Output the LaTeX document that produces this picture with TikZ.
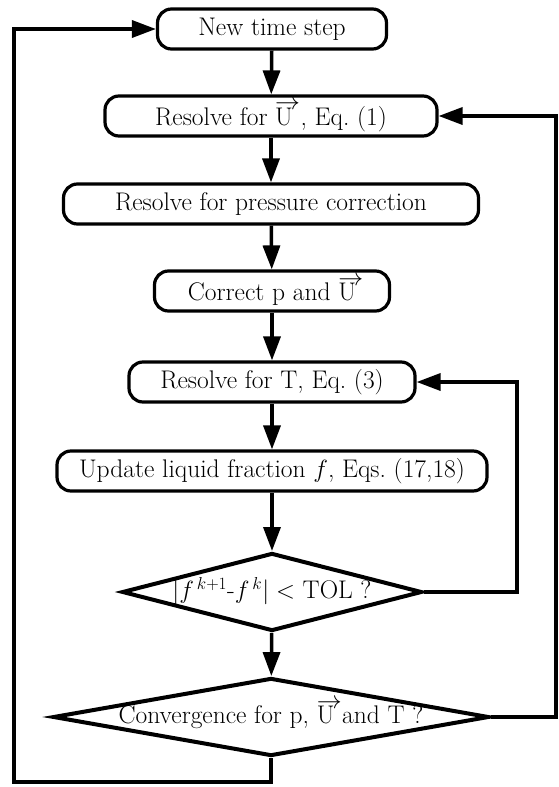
\documentclass[tikz,border=0pt]{standalone}
\usetikzlibrary{shapes.geometric,arrows.meta}

\newcommand{\vU}{\rlap{\raisebox{0.6em}{$\rightarrow$}}U}

\begin{document}
\begin{tikzpicture}[x=1pt,y=-1pt,
  >={Triangle[length=24pt,width=17pt]},
  box/.style={draw,line width=3.2pt,rounded corners=14pt,minimum height=40pt,inner sep=0pt,font=\fontsize{25.5}{30}\selectfont},
  test/.style={draw,shape=diamond,line width=4pt,inner sep=0pt,text height=13pt,text depth=0pt,font=\fontsize{25.5}{30}\selectfont},
  flow/.style={line width=3.5pt,->}]

\useasboundingbox (0,0) rectangle (558,787);

\node[box,minimum width=229pt] (newstep) at (272,29) {New time step};
\node[box,minimum width=332pt] (velo) at (271,116) {Resolve for \vU\ , Eq.~(1)};
\node[box,minimum width=415pt] (press) at (271,204) {Resolve for pressure correction};
\node[box,minimum width=235pt] (corr) at (272,291) {Correct p and \vU};
\node[box,minimum width=286pt] (temp) at (272,382) {Resolve for T, Eq.~(3)};
\node[box,minimum width=430pt] (frac) at (272,471) {Update liquid fraction $f$, Eqs.~(17,18)};

\node[test,minimum width=300pt,minimum height=78pt,aspect=3.9] (tol) at (272,592) {$|f^{\,k+1}\mbox{-}f^{\,k}|<$ TOL ?};
\node[test,minimum width=436pt,minimum height=78pt,aspect=5.6] (conv) at (271,717) {Convergence for p, \vU\ and T ?};

\coordinate (L) at (14,782);
\coordinate (R) at (556,717);

\draw[flow] (newstep) -- (velo);
\draw[flow] (velo) -- (press);
\draw[flow] (press) -- (corr);
\draw[flow] (corr) -- (temp);
\draw[flow] (temp) -- (frac);
\draw[flow] (frac) -- (tol);
\draw[flow] (tol) -- (conv);

\draw[flow] (tol.east) -- ++(93,0) |- (temp.east);
\draw[flow] (conv.east) -- (R) |- (velo.east);
\draw[flow] (conv.south) |- (L) |- (newstep.west);

\end{tikzpicture}
\end{document}
